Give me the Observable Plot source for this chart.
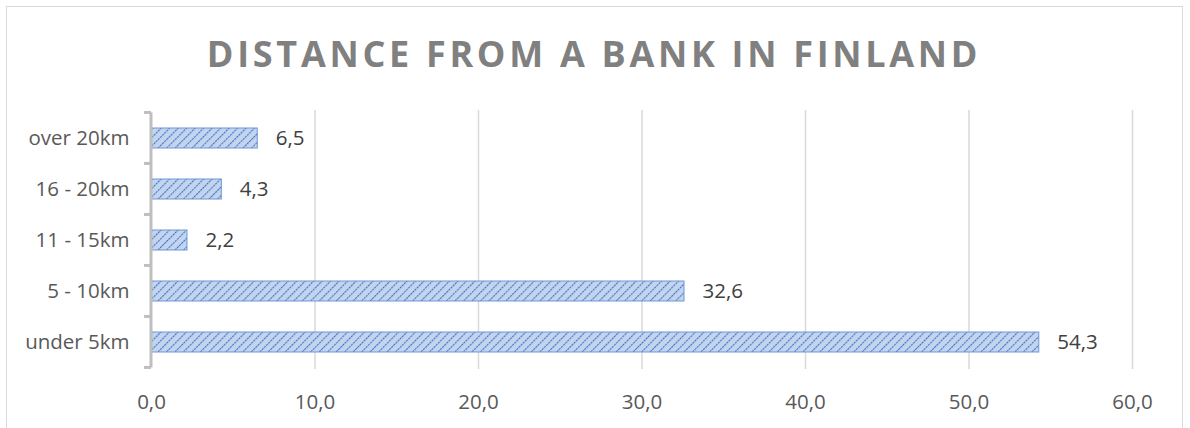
<!DOCTYPE html>
<html>
<head>
<meta charset="utf-8">
<script src="https://cdn.jsdelivr.net/npm/d3@7"></script>
<script src="https://cdn.jsdelivr.net/npm/@observablehq/plot@0.6"></script>
<style>
  html, body { margin: 0; padding: 0; background: #fff; }
  #chart { width: 1190px; height: 428px; overflow: hidden; }
</style>
</head>
<body>
<div id="chart"></div>
<script>
const title = "DISTANCE FROM A BANK IN FINLAND";
const categories = ["over 20km", "16 - 20km", "11 - 15km", "5 - 10km", "under 5km"];
const values = [6.5, 4.3, 2.2, 32.6, 54.3];
const xTicks = [0, 10, 20, 30, 40, 50, 60];

const data = categories.map((c, i) => ({category: c, value: values[i]}));
const fmt = v => v.toFixed(1).replace(".", ",");
const font = "'Open Sans', sans-serif";

const plot = Plot.plot({
  width: 1190,
  height: 428,
  marginLeft: 151,
  marginRight: 58,
  marginTop: 110,
  marginBottom: 59,
  style: {fontFamily: font, fontSize: "20px", color: "#595959", background: "transparent"},
  x: {domain: [0, 60], ticks: xTicks, tickFormat: fmt, label: null},
  y: {domain: categories, paddingInner: 0.61, paddingOuter: 0.305, label: null},
  marks: [
    Plot.gridX(xTicks.filter(t => t > 0), {stroke: "#d9d9d9", strokeOpacity: 1, strokeWidth: 1.5}),
    Plot.axisX({ticks: xTicks, tickFormat: fmt, tickSize: 0, tickPadding: 25, fontSize: 20.5, fill: "#595959", label: null}),
    Plot.axisY({tickSize: 0, tickPadding: 22, fontSize: 20.5, fill: "#595959", label: null}),
    Plot.barX(data, {x: "value", y: "category", fill: "url(#hatch)", stroke: "#6f97d6", strokeWidth: 1}),
    Plot.text(data, {x: "value", y: "category", text: d => fmt(d.value), textAnchor: "start", dx: 18, fontSize: 20.5, fill: "#404040"})
  ]
});

const svg = d3.select(plot);
// hatch pattern
const defs = svg.insert("defs", ":first-child");
const pat = defs.append("pattern").attr("id", "hatch").attr("patternUnits", "userSpaceOnUse")
  .attr("width", 6).attr("height", 6).attr("patternTransform", "rotate(45)");
pat.append("rect").attr("width", 6).attr("height", 6).attr("fill", "#c2d4ee");
pat.append("line").attr("x1", 0).attr("y1", 0).attr("x2", 0).attr("y2", 6)
  .attr("stroke", "#4576c6").attr("stroke-width", 2.2).attr("stroke-dasharray", "2.2 0.8");

// chart border
svg.insert("rect", "defs + *").attr("x", 6.5).attr("y", 6.5).attr("width", 1176).attr("height", 440)
  .attr("fill", "none").attr("stroke", "#d9d9d9").attr("stroke-width", 1);

// title
svg.append("text").attr("x", 594).attr("y", 67).attr("text-anchor", "middle")
  .attr("font-family", font).attr("font-weight", "bold").attr("font-size", 36)
  .attr("letter-spacing", "3.7px").attr("fill", "#808080").text(title);

// category axis line + boundary ticks, from the plot's scales
const ys = plot.scale("y"), xs = plot.scale("x");
const x0 = xs.apply(0);
const step = ys.step;
const bounds = categories.map(c => ys.apply(c) - step * ys.paddingInner / 2);
bounds.push(bounds[bounds.length - 1] + step);
const axg = svg.append("g").attr("stroke", "#bfbfbf").attr("stroke-width", 3);
axg.append("line").attr("x1", x0).attr("x2", x0).attr("y1", bounds[0]).attr("y2", bounds[bounds.length - 1]);
axg.selectAll(".t").data(bounds).join("line").attr("x1", x0 - 7).attr("x2", x0).attr("y1", d => d).attr("y2", d => d);

document.getElementById("chart").append(plot);
</script>
</body>
</html>
